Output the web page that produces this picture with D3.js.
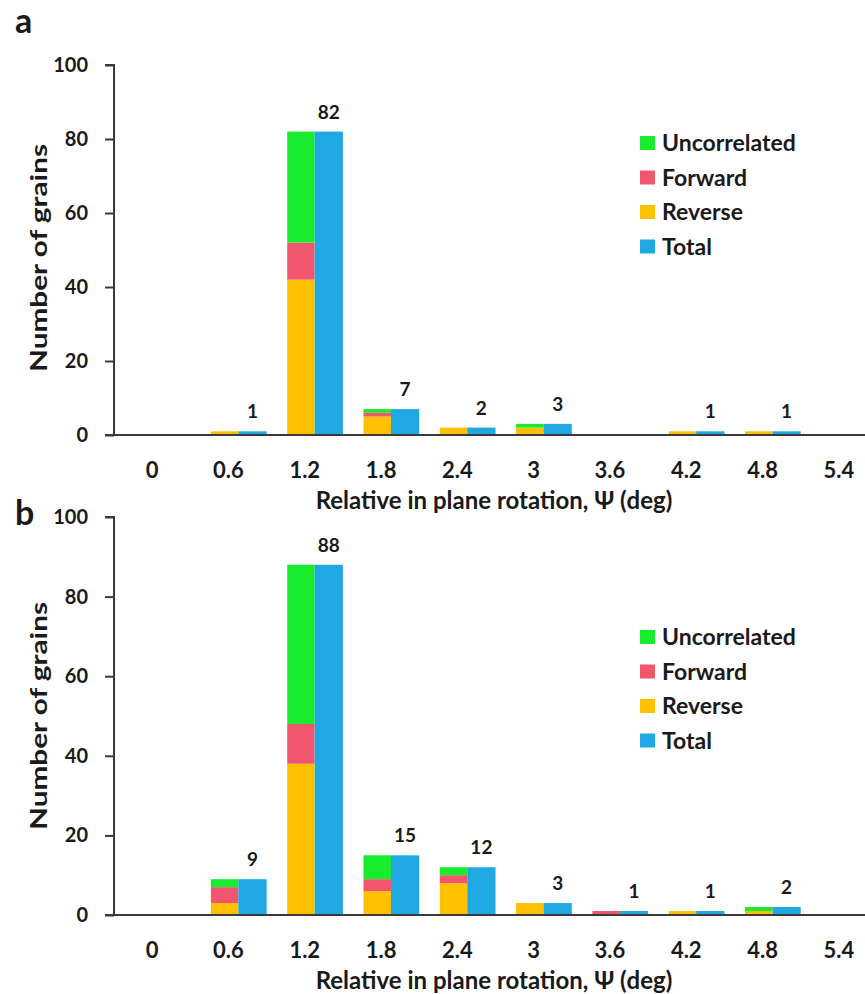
<!DOCTYPE html>
<html>
<head>
<meta charset="utf-8">
<script src="https://cdn.jsdelivr.net/npm/d3@7"></script>
<style>
  body { margin: 0; background: #fff; }
  svg text { font-family: Lato, "Open Sans", sans-serif; font-weight: 700; fill: #1a1a1a; }
</style>
</head>
<body>
<div id="chart"></div>
<script>
// Relative in-plane rotation bins (deg)
const categories = ["0", "0.6", "1.2", "1.8", "2.4", "3", "3.6", "4.2", "4.8", "5.4"];

// panel a
const reverseA  = [0, 1, 42, 5, 2, 2, 0, 1, 1, 0];
const forwardA  = [0, 0, 10, 1, 0, 0, 0, 0, 0, 0];
const uncorrA   = [0, 0, 30, 1, 0, 1, 0, 0, 0, 0];
const totalA    = [0, 1, 82, 7, 2, 3, 0, 1, 1, 0];

// panel b
const reverseB  = [0, 3, 38, 6, 8, 3, 0, 1, 1, 0];
const forwardB  = [0, 4, 10, 3, 2, 0, 1, 0, 0, 0];
const uncorrB   = [0, 2, 40, 6, 2, 0, 0, 0, 1, 0];
const totalB    = [0, 9, 88, 15, 12, 3, 1, 1, 2, 0];

const yTicks = [0, 20, 40, 60, 80, 100];
const legendNames = ["Uncorrelated", "Forward", "Reverse", "Total"];

const colors = {
    Uncorrelated: "#19ec2c",
    Forward: "#f2566f",
    Reverse: "#ffc000",
    Total: "#1fa8e1"
};

const W = 865, H = 994;

const svg = d3.select("#chart").append("svg")
    .attr("width", W)
    .attr("height", H);

function drawPanel(opts) {
    let rows = categories.map((c, i) => ({
        cat: c,
        Reverse: opts.reverse[i],
        Forward: opts.forward[i],
        Uncorrelated: opts.uncorr[i],
        Total: opts.total[i]
    }));

    let g = svg.append("g");

    let x = d3.scaleBand()
        .domain(categories)
        .range([114, 877])
        .padding(0);

    let y = d3.scaleLinear()
        .domain([0, 100])
        .range([opts.y0, opts.y100]);

    let step = x.step();

    // stacked bars
    let stack = d3.stack().keys(["Reverse", "Forward", "Uncorrelated"]);
    let series = stack(rows);

    g.selectAll(".layer")
        .data(series)
        .enter()
        .append("g")
        .attr("class", "layer")
        .attr("fill", d => colors[d.key])
        .selectAll("rect")
        .data(d => d)
        .enter()
        .append("rect")
        .attr("x", d => x(d.data.cat) + step * 0.27)
        .attr("width", step * 0.36)
        .attr("y", d => y(d[1]))
        .attr("height", d => y(d[0]) - y(d[1]));

    // total bars
    g.selectAll(".total")
        .data(rows)
        .enter()
        .append("rect")
        .attr("class", "total")
        .attr("fill", colors.Total)
        .attr("x", d => x(d.cat) + step * 0.63)
        .attr("width", step * 0.37)
        .attr("y", d => y(d.Total))
        .attr("height", d => y(0) - y(d.Total));

    // value labels
    g.selectAll(".val")
        .data(rows.filter(d => d.Total > 0))
        .enter()
        .append("text")
        .attr("class", "val")
        .attr("x", d => x(d.cat) + step * 0.815)
        .attr("y", d => y(d.Total) - 13)
        .attr("text-anchor", "middle")
        .attr("font-size", 19)
        .text(d => d.Total);

    // y axis
    let yAxis = d3.axisLeft(y)
        .tickValues(yTicks)
        .tickSize(9)
        .tickPadding(17);

    let ya = g.append("g")
        .attr("transform", "translate(114,0)")
        .call(yAxis);
    ya.select(".domain").attr("stroke", "#3a3a3a").attr("stroke-width", 2)
        .attr("d", `M-9,${y(100)}H0V${y(0)}`);
    ya.selectAll(".tick line").attr("stroke", "#3a3a3a").attr("stroke-width", 2);
    ya.selectAll(".tick text").attr("font-size", 20).attr("fill", "#1a1a1a")
        .style("font-family", "Lato, sans-serif").style("font-weight", 700);

    // x axis
    let xAxis = d3.axisBottom(x)
        .tickSize(0)
        .tickPadding(27);

    let xa = g.append("g")
        .attr("transform", `translate(0,${y(0)})`)
        .call(xAxis);
    xa.select(".domain").attr("stroke", "#3a3a3a").attr("stroke-width", 2)
        .attr("d", `M105,0H877`);
    xa.selectAll(".tick text").attr("font-size", 22).attr("fill", "#1a1a1a")
        .style("font-family", "Lato, sans-serif").style("font-weight", 700);

    // axis titles
    g.append("text")
        .attr("x", 494)
        .attr("y", y(0) + 74)
        .attr("text-anchor", "middle")
        .attr("font-size", 24)
        .text("Relative in plane rotation, Ψ (deg)");

    g.append("text")
        .attr("transform", `translate(47,${opts.titleY}) rotate(-90)`)
        .attr("text-anchor", "middle")
        .attr("font-size", 23)
        .attr("textLength", 228)
        .attr("lengthAdjust", "spacingAndGlyphs")
        .text("Number of grains");

    // panel letter
    g.append("text")
        .attr("x", 15)
        .attr("y", opts.letterY)
        .attr("font-size", 34)
        .text(opts.letter);

    // legend
    let leg = g.selectAll(".legend")
        .data(legendNames)
        .enter()
        .append("g")
        .attr("class", "legend")
        .attr("transform", (d, i) => `translate(640,${opts.legendY + i * 34.5})`);

    leg.append("rect")
        .attr("x", 0)
        .attr("y", -7)
        .attr("width", 15)
        .attr("height", 14)
        .attr("fill", d => colors[d]);

    leg.append("text")
        .attr("x", 22)
        .attr("y", 8)
        .attr("font-size", 23)
        .text(d => d);
}

drawPanel({
    reverse: reverseA, forward: forwardA, uncorr: uncorrA, total: totalA,
    y0: 435, y100: 65, letter: "a", letterY: 33, legendY: 143, titleY: 258
});

drawPanel({
    reverse: reverseB, forward: forwardB, uncorr: uncorrB, total: totalB,
    y0: 915, y100: 517, letter: "b", letterY: 525, legendY: 637, titleY: 716
});
</script>
</body>
</html>
